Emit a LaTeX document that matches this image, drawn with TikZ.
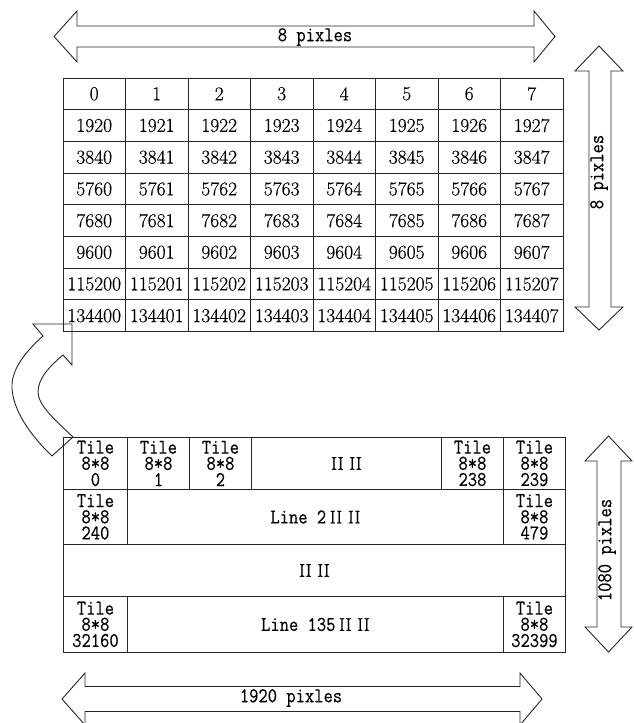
\documentclass[tikz,border=0pt]{standalone}
\usepackage{fontspec}
\newfontfamily\monof[FakeStretch=0.86,FakeBold=0.4]{Latin Modern Mono}
\newfontfamily\numf[FakeBold=0.35]{Latin Modern Roman}
\begin{document}
\begin{tikzpicture}[x=1pt,y=-1pt,line width=0.9pt,
  cell/.style={draw=black!85,minimum width=62.5pt,minimum height=31.7pt,inner sep=0pt,anchor=north west,font=\numf\fontsize{19.5}{20}\selectfont},
  bcell/.style={draw=black!85,inner sep=0pt,anchor=north west,align=center,font=\monof\fontsize{21}{16.2}\selectfont},
  lbl/.style={font=\monof\fontsize{21}{16}\selectfont,inner sep=0pt},
  blockarrow/.style={draw=black!85,line width=0.9pt,line join=miter}]
\useasboundingbox (0,0) rectangle (633,723);
\newcommand{\rn}{{\numf\fontsize{18.5}{18}\selectfont II II}}
% top table
\foreach \b [count=\r from 0] in {0,1920,3840,5760,7680,9600,115200,134400}
  \foreach \c in {0,...,7}
    \node[cell] (t\r-\c) at ({62.5+62.5*\c},{77.5+31.7*\r}) {\the\numexpr\b+\c\relax};
% bottom table
\node[bcell,minimum width=64pt,minimum height=52pt] (b11) at (63,437) {Tile\\8*8\\0};
\node[bcell,minimum width=62pt,minimum height=52pt] (b12) at (127,437) {Tile\\8*8\\1};
\node[bcell,minimum width=62pt,minimum height=52pt] (b13) at (189,437) {Tile\\8*8\\2};
\node[bcell,minimum width=190pt,minimum height=52pt] (b14) at (251,437) {\rn};
\node[bcell,minimum width=62pt,minimum height=52pt] (b15) at (441,437) {Tile\\8*8\\238};
\node[bcell,minimum width=62pt,minimum height=52pt] (b16) at (503,437) {Tile\\8*8\\239};
\node[bcell,minimum width=64pt,minimum height=55pt] (b21) at (63,489) {Tile\\8*8\\240};
\node[bcell,minimum width=376pt,minimum height=55pt] (b22) at (127,489) {Line 2\,\rn};
\node[bcell,minimum width=62pt,minimum height=55pt] (b23) at (503,489) {Tile\\8*8\\479};
\node[bcell,minimum width=502pt,minimum height=52pt] (b31) at (63,544) {\rn};
\node[bcell,minimum width=64pt,minimum height=56pt] (b41) at (63,596) {Tile\\8*8\\32160};
\node[bcell,minimum width=376pt,minimum height=56pt] (b42) at (127,596) {Line 135\,\rn};
\node[bcell,minimum width=62pt,minimum height=56pt] (b43) at (503,596) {Tile\\8*8\\32399};
% top horizontal arrow
\draw[blockarrow] (54,36.5) -- (77,11) -- (77,26) -- (534,26) -- (534,11) -- (555,36.5)
  -- (534,62) -- (534,47) -- (77,47) -- (77,62) -- cycle;
\node[lbl] (w8) at (315,37) {8 pixles};
% right top vertical arrow
\draw[blockarrow] (599,46) -- (623,71) -- (611,71) -- (611,307) -- (623,307) -- (599,330)
  -- (575,307) -- (589,307) -- (589,71) -- (575,71) -- cycle;
\node[lbl,rotate=90] (h8) at (599,172) {8 pixles};
% right bottom vertical arrow
\draw[blockarrow] (608.5,436) -- (632,461) -- (621,461) -- (621,627) -- (632,627) -- (608.5,652)
  -- (585,627) -- (597,627) -- (597,461) -- (585,461) -- cycle;
\node[lbl,rotate=90] (h1080) at (607,550) {1080 pixles};
% bottom horizontal arrow
\draw[blockarrow] (62,699) -- (85,673) -- (85,686.5) -- (520,686.5) -- (520,673) -- (542,699)
  -- (520,725) -- (520,711.5) -- (85,711.5) -- (85,725) -- cycle;
\node[lbl] (w1920) at (291,698) {1920 pixles};
% curved arrow
\draw[blockarrow] (72,324) -- (33,324) -- (43,336)
  .. controls (25,352) and (11,370) .. (12,388)
  .. controls (13,410) and (30,435) .. (52,456)
  -- (73,437)
  .. controls (55,420) and (38,405) .. (38,392)
  .. controls (38,378) and (50,366) .. (63,355)
  -- (72,365) -- cycle;
\end{tikzpicture}
\end{document}
